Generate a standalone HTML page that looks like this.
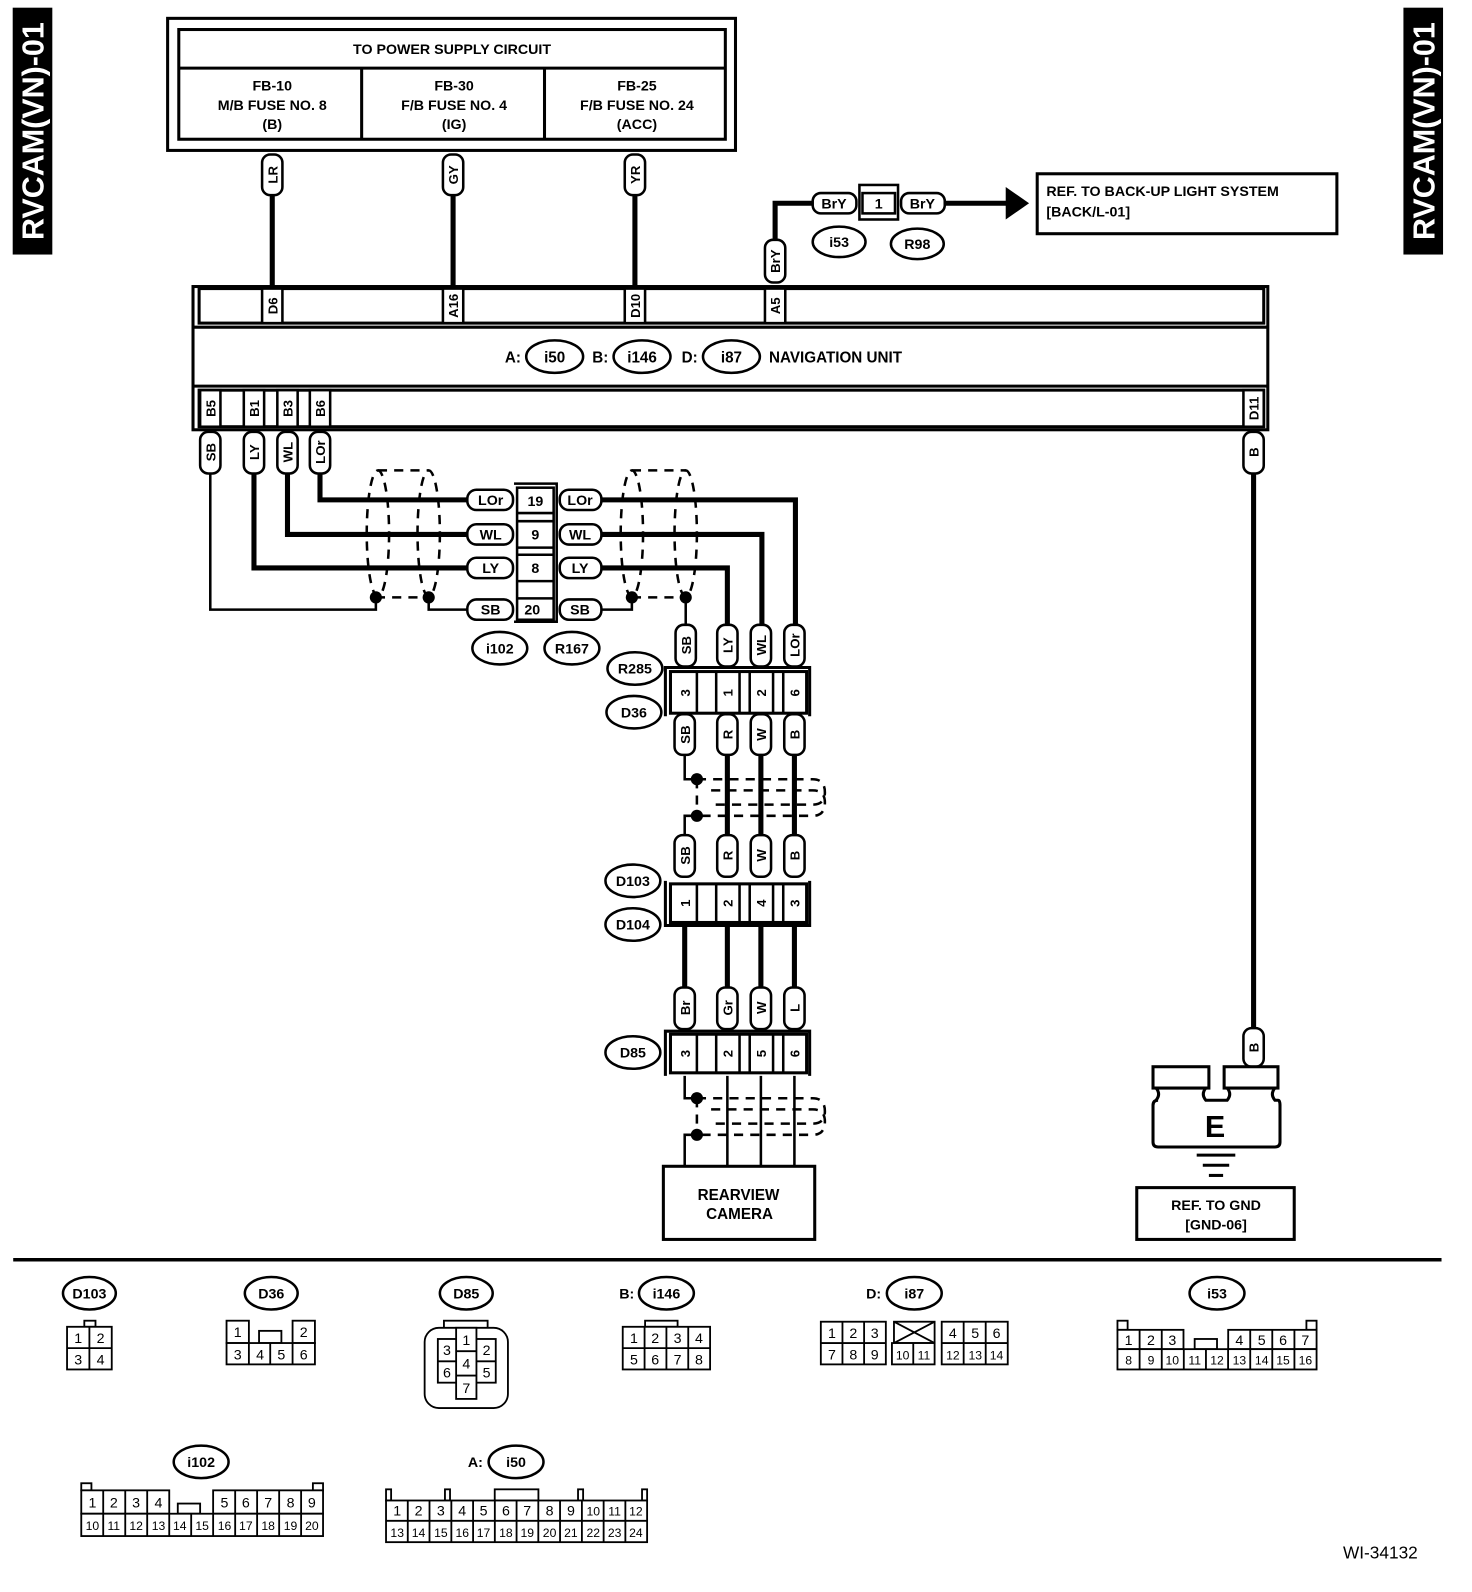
<!DOCTYPE html>
<html><head><meta charset="utf-8"><style>
html,body{margin:0;padding:0;background:#fff}
svg{display:block}
text{font-family:"Liberation Sans",sans-serif}
.b{font-weight:bold}
</style></head><body>
<svg width="1472" height="1592" viewBox="0 0 1449 1567" xmlns="http://www.w3.org/2000/svg">
<defs>
<g id="dot"><circle r="5" fill="#000"/></g>
</defs>
<g fill="none" stroke="#000">
<!-- side tabs -->
<rect x="13" y="8" width="38" height="242" fill="#000"/>
<rect x="1382" y="8" width="38" height="242" fill="#000"/>
</g>
<text class="b" transform="translate(43,129) rotate(-90)" text-anchor="middle" font-size="30" fill="#fff">RVCAM(VN)-01</text>
<text class="b" transform="translate(1412,129) rotate(-90)" text-anchor="middle" font-size="30" fill="#fff">RVCAM(VN)-01</text>

<!-- power supply box -->
<g fill="none" stroke="#000">
<rect x="165" y="18" width="559" height="130" stroke-width="3"/>
<rect x="176" y="29" width="538" height="108" stroke-width="3"/>
<line x1="176" y1="67" x2="714" y2="67" stroke-width="3"/>
<line x1="356" y1="67" x2="356" y2="137" stroke-width="3"/>
<line x1="536" y1="67" x2="536" y2="137" stroke-width="3"/>
</g>
<g class="b" font-size="14" text-anchor="middle">
<text x="445" y="53">TO POWER SUPPLY CIRCUIT</text>
<text x="268" y="89">FB-10</text><text x="268" y="108">M/B FUSE NO. 8</text><text x="268" y="127">(B)</text>
<text x="447" y="89">FB-30</text><text x="447" y="108">F/B FUSE NO. 4</text><text x="447" y="127">(IG)</text>
<text x="627" y="89">FB-25</text><text x="627" y="108">F/B FUSE NO. 24</text><text x="627" y="127">(ACC)</text>
</g>

<!-- thick wires -->
<g stroke="#000" stroke-width="5" fill="none">
<line x1="268" y1="190" x2="268" y2="284"/>
<line x1="446" y1="190" x2="446" y2="284"/>
<line x1="625" y1="190" x2="625" y2="284"/>
<polyline points="763,238 763,200 800,200"/>
<line x1="930" y1="200" x2="992" y2="200"/>
<polyline points="250,466 250,559 460,559"/>
<polyline points="283,466 283,526 460,526"/>
<polyline points="315,466 315,492 460,492"/>
<polyline points="592,492 783,492 783,615"/>
<polyline points="592,526 750,526 750,615"/>
<polyline points="592,559 716,559 716,615"/>
<line x1="716" y1="742" x2="716" y2="822"/>
<line x1="749" y1="742" x2="749" y2="822"/>
<line x1="782" y1="742" x2="782" y2="822"/>
<line x1="674" y1="911" x2="674" y2="972"/>
<line x1="716" y1="911" x2="716" y2="972"/>
<line x1="749" y1="911" x2="749" y2="972"/>
<line x1="782" y1="911" x2="782" y2="972"/>
<line x1="1234" y1="466" x2="1234" y2="1012"/>
</g>
<polygon points="990,184 1013,200 990,216" fill="#000"/>
<!-- thin wires -->
<g stroke="#000" stroke-width="2.5" fill="none">
<polyline points="207,466 207,600 370,600 370,588"/>
<polyline points="422,588 422,600 460,600"/>
<polyline points="592,600 622,600 622,588"/>
<polyline points="675,588 675,615"/>
<polyline points="674,742 674,767 686,767"/>
<polyline points="686,803 674,803 674,822"/>
<polyline points="674,1059 674,1081 686,1081"/>
<polyline points="686,1117 674,1117 674,1148"/>
<line x1="716" y1="1059" x2="716" y2="1148"/>
<line x1="749" y1="1059" x2="749" y2="1148"/>
<line x1="782" y1="1059" x2="782" y2="1148"/>
</g>
<!-- shields -->
<g stroke="#000" stroke-width="2.5" fill="none" stroke-dasharray="9,7">
<ellipse cx="372" cy="525" rx="11" ry="62"/>
<ellipse cx="422" cy="525" rx="11" ry="62"/>
<line x1="372" y1="463" x2="422" y2="463"/>
<line x1="370" y1="588" x2="422" y2="588"/>
<ellipse cx="622" cy="525" rx="11" ry="62"/>
<ellipse cx="675" cy="525" rx="11" ry="62"/>
<line x1="622" y1="463" x2="675" y2="463"/>
<line x1="622" y1="588" x2="675" y2="588"/>
<path d="M686,767 L800,767 Q812,767 812,780 Q812,792 800,792 L700,792"/>
<path d="M700,778 L800,778 Q812,778 812,790 Q812,803 800,803 L686,803"/>
<line x1="686" y1="767" x2="686" y2="803"/>
<path d="M686,1081 L800,1081 Q812,1081 812,1094 Q812,1106 800,1106 L700,1106"/>
<path d="M700,1092 L800,1092 Q812,1092 812,1104 Q812,1117 800,1117 L686,1117"/>
<line x1="686" y1="1081" x2="686" y2="1117"/>
</g>
<g fill="#000">
<circle cx="370" cy="588" r="6"/><circle cx="422" cy="588" r="6"/>
<circle cx="622" cy="588" r="6"/><circle cx="675" cy="588" r="6"/>
<circle cx="686" cy="767" r="6"/><circle cx="686" cy="803" r="6"/>
<circle cx="686" cy="1081" r="6"/><circle cx="686" cy="1117" r="6"/>
</g>

<!-- navigation unit -->
<g fill="#fff" stroke="#000" stroke-width="3">
<rect x="190" y="282" width="1058" height="141"/>
<rect x="196" y="284" width="1048" height="34"/>
<line x1="190" y1="322" x2="1248" y2="322"/>
<line x1="190" y1="380" x2="1248" y2="380"/>
<rect x="196" y="384" width="1048" height="36" fill="none"/>
</g>
<g fill="#fff" stroke="#000" stroke-width="2.5">
<rect x="258" y="284" width="20" height="34"/>
<rect x="436" y="284" width="20" height="34"/>
<rect x="615" y="284" width="20" height="34"/>
<rect x="753" y="284" width="20" height="34"/>
<rect x="197" y="384" width="20" height="36"/>
<rect x="240" y="384" width="20" height="36"/>
<rect x="273" y="384" width="20" height="36"/>
<rect x="305" y="384" width="20" height="36"/>
<rect x="1224" y="384" width="20" height="36"/>
</g>
<g class="b" font-size="13" text-anchor="middle">
<text transform="translate(273,301) rotate(-90)">D6</text>
<text transform="translate(451,301) rotate(-90)">A16</text>
<text transform="translate(630,301) rotate(-90)">D10</text>
<text transform="translate(768,301) rotate(-90)">A5</text>
<text transform="translate(212,402) rotate(-90)">B5</text>
<text transform="translate(255,402) rotate(-90)">B1</text>
<text transform="translate(288,402) rotate(-90)">B3</text>
<text transform="translate(320,402) rotate(-90)">B6</text>
<text transform="translate(1239,402) rotate(-90)">D11</text>
</g>
<g fill="#fff" stroke="#000" stroke-width="2.5">
<ellipse cx="546" cy="351" rx="28" ry="16"/>
<ellipse cx="632" cy="351" rx="28" ry="16"/>
<ellipse cx="720" cy="351" rx="28" ry="16"/>
</g>
<g class="b" font-size="15">
<text x="497" y="357">A:</text><text x="546" y="357" text-anchor="middle">i50</text>
<text x="583" y="357">B:</text><text x="632" y="357" text-anchor="middle">i146</text>
<text x="671" y="357">D:</text><text x="720" y="357" text-anchor="middle">i87</text>
<text x="757" y="357">NAVIGATION UNIT</text>
</g>

<!-- vertical pills -->
<g fill="#fff" stroke="#000" stroke-width="2.5">
<rect x="258" y="152" width="20" height="40" rx="8"/>
<rect x="436" y="152" width="20" height="40" rx="8"/>
<rect x="615" y="152" width="20" height="40" rx="8"/>
<rect x="753" y="236" width="20" height="42" rx="8"/>
<rect x="197" y="425" width="20" height="41" rx="8"/>
<rect x="240" y="425" width="20" height="41" rx="8"/>
<rect x="273" y="425" width="20" height="41" rx="8"/>
<rect x="305" y="425" width="20" height="41" rx="8"/>
<rect x="1224" y="425" width="20" height="41" rx="8"/>
<rect x="665" y="615" width="20" height="41" rx="8"/>
<rect x="706" y="615" width="20" height="41" rx="8"/>
<rect x="739" y="615" width="20" height="41" rx="8"/>
<rect x="772" y="615" width="20" height="41" rx="8"/>
<rect x="664" y="703" width="20" height="40" rx="8"/>
<rect x="706" y="703" width="20" height="40" rx="8"/>
<rect x="739" y="703" width="20" height="40" rx="8"/>
<rect x="772" y="703" width="20" height="40" rx="8"/>
<rect x="664" y="822" width="20" height="41" rx="8"/>
<rect x="706" y="822" width="20" height="41" rx="8"/>
<rect x="739" y="822" width="20" height="41" rx="8"/>
<rect x="772" y="822" width="20" height="41" rx="8"/>
<rect x="664" y="972" width="20" height="41" rx="8"/>
<rect x="706" y="972" width="20" height="41" rx="8"/>
<rect x="739" y="972" width="20" height="41" rx="8"/>
<rect x="772" y="972" width="20" height="41" rx="8"/>
<rect x="1224" y="1012" width="20" height="38" rx="8"/>
</g>
<g class="b" font-size="13" text-anchor="middle">
<text transform="translate(273,172) rotate(-90)">LR</text>
<text transform="translate(451,172) rotate(-90)">GY</text>
<text transform="translate(630,172) rotate(-90)">YR</text>
<text transform="translate(768,257) rotate(-90)">BrY</text>
<text transform="translate(212,445) rotate(-90)">SB</text>
<text transform="translate(255,445) rotate(-90)">LY</text>
<text transform="translate(288,445) rotate(-90)">WL</text>
<text transform="translate(320,445) rotate(-90)">LOr</text>
<text transform="translate(1239,445) rotate(-90)">B</text>
<text transform="translate(680,635) rotate(-90)">SB</text>
<text transform="translate(721,635) rotate(-90)">LY</text>
<text transform="translate(754,635) rotate(-90)">WL</text>
<text transform="translate(787,635) rotate(-90)">LOr</text>
<text transform="translate(679,723) rotate(-90)">SB</text>
<text transform="translate(721,723) rotate(-90)">R</text>
<text transform="translate(754,723) rotate(-90)">W</text>
<text transform="translate(787,723) rotate(-90)">B</text>
<text transform="translate(679,842) rotate(-90)">SB</text>
<text transform="translate(721,842) rotate(-90)">R</text>
<text transform="translate(754,842) rotate(-90)">W</text>
<text transform="translate(787,842) rotate(-90)">B</text>
<text transform="translate(679,992) rotate(-90)">Br</text>
<text transform="translate(721,992) rotate(-90)">Gr</text>
<text transform="translate(754,992) rotate(-90)">W</text>
<text transform="translate(787,992) rotate(-90)">L</text>
<text transform="translate(1239,1031) rotate(-90)">B</text>
</g>

<!-- BrY connector -->
<g fill="#fff" stroke="#000" stroke-width="2.5">
<rect x="800" y="190" width="43" height="20" rx="8"/>
<rect x="846" y="182" width="38" height="34"/>
<rect x="849" y="190" width="32" height="20"/>
<rect x="887" y="190" width="43" height="20" rx="8"/>
<ellipse cx="826" cy="238" rx="26" ry="15"/>
<ellipse cx="903" cy="240" rx="26" ry="15"/>
<rect x="1021" y="171" width="295" height="59" stroke-width="3"/>
</g>
<g class="b" font-size="14" text-anchor="middle">
<text x="821" y="205">BrY</text><text x="865" y="205">1</text><text x="908" y="205">BrY</text>
<text x="826" y="243">i53</text><text x="903" y="245">R98</text>
</g>
<g class="b" font-size="14">
<text x="1030" y="193">REF. TO BACK-UP LIGHT SYSTEM</text>
<text x="1030" y="213">[BACK/L-01]</text>
</g>

<!-- i102/R167 joint connector -->
<g fill="#fff" stroke="#000" stroke-width="2.5">
<path d="M506,476 L548,476 L548,612 L506,612" fill="none"/>
<rect x="509" y="480" width="36" height="130"/>
<line x1="509" y1="505" x2="545" y2="505"/><line x1="509" y1="513" x2="545" y2="513"/>
<line x1="509" y1="539" x2="545" y2="539"/><line x1="509" y1="546" x2="545" y2="546"/>
<line x1="509" y1="572" x2="545" y2="572"/><line x1="509" y1="589" x2="545" y2="589"/>
<rect x="460" y="482" width="45" height="20" rx="9"/>
<rect x="460" y="516" width="45" height="20" rx="9"/>
<rect x="460" y="549" width="45" height="20" rx="9"/>
<rect x="460" y="590" width="45" height="20" rx="9"/>
<rect x="551" y="482" width="41" height="20" rx="9"/>
<rect x="551" y="516" width="41" height="20" rx="9"/>
<rect x="551" y="549" width="41" height="20" rx="9"/>
<rect x="551" y="590" width="41" height="20" rx="9"/>
<ellipse cx="492" cy="638" rx="27" ry="16"/>
<ellipse cx="563" cy="638" rx="27" ry="16"/>
<ellipse cx="625" cy="658" rx="27" ry="16"/>
<ellipse cx="624" cy="701" rx="27" ry="16"/>
<ellipse cx="623" cy="867" rx="27" ry="16"/>
<ellipse cx="623" cy="910" rx="27" ry="16"/>
<ellipse cx="623" cy="1036" rx="27" ry="16"/>
</g>
<g class="b" font-size="14" text-anchor="middle">
<text x="483" y="497">LOr</text><text x="527" y="498">19</text><text x="571" y="497">LOr</text>
<text x="483" y="531">WL</text><text x="527" y="531">9</text><text x="571" y="531">WL</text>
<text x="483" y="564">LY</text><text x="527" y="564">8</text><text x="571" y="564">LY</text>
<text x="483" y="605">SB</text><text x="524" y="605">20</text><text x="571" y="605">SB</text>
<text x="492" y="643">i102</text><text x="563" y="643">R167</text>
<text x="625" y="663">R285</text><text x="624" y="706">D36</text>
<text x="623" y="872">D103</text><text x="623" y="915">D104</text>
<text x="623" y="1041">D85</text>
</g>

<!-- inline connectors -->
<g fill="#fff" stroke="#000" stroke-width="3">
<path d="M655,705 L655,657 L797,657 L797,705" fill="none"/>
<rect x="660" y="661" width="134" height="41"/>
<path d="M655,867 L655,911 L797,911 L797,867" fill="none"/>
<rect x="660" y="870" width="134" height="38"/>
<path d="M655,1059 L655,1015 L797,1015 L797,1059" fill="none"/>
<rect x="660" y="1018" width="134" height="38"/>
</g>
<g stroke="#000" stroke-width="2.5">
<line x1="686" y1="661" x2="686" y2="702"/><line x1="705" y1="661" x2="705" y2="702"/>
<line x1="728" y1="661" x2="728" y2="702"/><line x1="738" y1="661" x2="738" y2="702"/>
<line x1="761" y1="661" x2="761" y2="702"/><line x1="771" y1="661" x2="771" y2="702"/>
<line x1="686" y1="870" x2="686" y2="908"/><line x1="705" y1="870" x2="705" y2="908"/>
<line x1="728" y1="870" x2="728" y2="908"/><line x1="738" y1="870" x2="738" y2="908"/>
<line x1="761" y1="870" x2="761" y2="908"/><line x1="771" y1="870" x2="771" y2="908"/>
<line x1="686" y1="1018" x2="686" y2="1056"/><line x1="705" y1="1018" x2="705" y2="1056"/>
<line x1="728" y1="1018" x2="728" y2="1056"/><line x1="738" y1="1018" x2="738" y2="1056"/>
<line x1="761" y1="1018" x2="761" y2="1056"/><line x1="771" y1="1018" x2="771" y2="1056"/>
</g>
<g class="b" font-size="13" text-anchor="middle">
<text transform="translate(679,682) rotate(-90)">3</text>
<text transform="translate(721,682) rotate(-90)">1</text>
<text transform="translate(754,682) rotate(-90)">2</text>
<text transform="translate(787,682) rotate(-90)">6</text>
<text transform="translate(679,889) rotate(-90)">1</text>
<text transform="translate(721,889) rotate(-90)">2</text>
<text transform="translate(754,889) rotate(-90)">4</text>
<text transform="translate(787,889) rotate(-90)">3</text>
<text transform="translate(679,1037) rotate(-90)">3</text>
<text transform="translate(721,1037) rotate(-90)">2</text>
<text transform="translate(754,1037) rotate(-90)">5</text>
<text transform="translate(787,1037) rotate(-90)">6</text>
</g>

<!-- camera -->
<rect x="653" y="1148" width="149" height="72" fill="#fff" stroke="#000" stroke-width="3"/>
<g class="b" font-size="15" text-anchor="middle">
<text x="727" y="1181">REARVIEW</text><text x="728" y="1200">CAMERA</text>
</g>

<!-- ground -->
<g fill="#fff" stroke="#000" stroke-width="3">
<rect x="1135" y="1050" width="55" height="21"/>
<rect x="1205" y="1050" width="53" height="21"/>
<path d="M1138,1071 L1187,1071 Q1182,1077 1187,1083 L1208,1083 Q1213,1077 1208,1071 L1255,1071 Q1250,1077 1255,1083 L1258,1083 Q1260,1083 1260,1088 L1260,1124 Q1260,1129 1255,1129 L1140,1129 Q1135,1129 1135,1124 L1135,1088 Q1135,1083 1140,1083 L1138,1083 Q1143,1077 1138,1071 Z"/>
<line x1="1187" y1="1071" x2="1187" y2="1083" stroke="none"/>
<rect x="1119" y="1169" width="155" height="51"/>
</g>
<g stroke="#000" stroke-width="3">
<line x1="1178" y1="1137" x2="1216" y2="1137"/>
<line x1="1184" y1="1147" x2="1210" y2="1147"/>
<line x1="1190" y1="1157" x2="1204" y2="1157"/>
<line x1="13" y1="1240" x2="1419" y2="1240" stroke-width="3.5"/>
</g>
<text class="b" x="1196" y="1119" font-size="30" text-anchor="middle">E</text>
<g class="b" font-size="14" text-anchor="middle">
<text x="1197" y="1191">REF. TO GND</text><text x="1197" y="1210">[GND-06]</text>
</g>

<!-- legend ovals -->
<g fill="#fff" stroke="#000" stroke-width="2.5">
<ellipse cx="88" cy="1273" rx="26" ry="16"/>
<ellipse cx="267" cy="1273" rx="26" ry="16"/>
<ellipse cx="459" cy="1273" rx="26" ry="16"/>
<ellipse cx="656" cy="1273" rx="27" ry="16"/>
<ellipse cx="900" cy="1273" rx="27" ry="16"/>
<ellipse cx="1198" cy="1273" rx="27" ry="16"/>
<ellipse cx="198" cy="1439" rx="27" ry="16"/>
<ellipse cx="508" cy="1439" rx="27" ry="16"/>
</g>
<g class="b" font-size="14" text-anchor="middle">
<text x="88" y="1278">D103</text><text x="267" y="1278">D36</text><text x="459" y="1278">D85</text>
<text x="617" y="1278">B:</text><text x="656" y="1278">i146</text>
<text x="860" y="1278">D:</text><text x="900" y="1278">i87</text>
<text x="1198" y="1278">i53</text><text x="198" y="1444">i102</text>
<text x="468" y="1444">A:</text><text x="508" y="1444">i50</text>
</g>

<!-- legend grids -->
<g fill="#fff" stroke="#000" stroke-width="1.8">
<!-- D103 -->
<rect x="83" y="1300" width="11" height="6"/>
<rect x="66" y="1306" width="44" height="42"/>
<line x1="88" y1="1306" x2="88" y2="1348"/><line x1="66" y1="1327" x2="110" y2="1327"/>
<!-- D36 -->
<rect x="223" y="1300" width="22" height="22"/><rect x="288" y="1300" width="22" height="22"/>
<rect x="255" y="1310" width="22" height="12"/>
<rect x="223" y="1322" width="87" height="21"/>
<line x1="245" y1="1322" x2="245" y2="1343"/><line x1="266" y1="1322" x2="266" y2="1343"/><line x1="288" y1="1322" x2="288" y2="1343"/>
<!-- D85 -->
<rect x="437" y="1300" width="43" height="9"/>
<rect x="418" y="1307" width="82" height="79" rx="14"/>
<rect x="431" y="1318" width="57" height="43"/>
<line x1="431" y1="1340" x2="488" y2="1340"/>
<rect x="449" y="1307" width="20" height="70"/>
<line x1="449" y1="1330" x2="469" y2="1330"/><line x1="449" y1="1354" x2="469" y2="1354"/>
<!-- i146 -->
<rect x="635" y="1300" width="32" height="6"/>
<rect x="613" y="1306" width="86" height="42"/>
<line x1="634.5" y1="1306" x2="634.5" y2="1348"/><line x1="656" y1="1306" x2="656" y2="1348"/><line x1="677.5" y1="1306" x2="677.5" y2="1348"/>
<line x1="613" y1="1327" x2="699" y2="1327"/>
<!-- i87 -->
<rect x="808" y="1301" width="64" height="42"/>
<line x1="829.3" y1="1301" x2="829.3" y2="1343"/><line x1="850.6" y1="1301" x2="850.6" y2="1343"/><line x1="808" y1="1322" x2="872" y2="1322"/>
<rect x="880" y="1301" width="40" height="21"/>
<line x1="880" y1="1301" x2="920" y2="1322"/><line x1="920" y1="1301" x2="880" y2="1322"/>
<rect x="878" y="1322" width="42" height="21"/><line x1="899" y1="1322" x2="899" y2="1343"/>
<rect x="927" y="1301" width="65" height="42"/>
<line x1="948.6" y1="1301" x2="948.6" y2="1343"/><line x1="970.3" y1="1301" x2="970.3" y2="1343"/><line x1="927" y1="1322" x2="992" y2="1322"/>
<!-- i53 -->
<rect x="1100" y="1300" width="10" height="9"/><rect x="1286" y="1300" width="10" height="9"/>
<rect x="1100" y="1309" width="65" height="19"/>
<rect x="1209" y="1309" width="87" height="19"/>
<rect x="1176" y="1318" width="22" height="10"/>
<rect x="1100" y="1328" width="196" height="20"/>
<line x1="1121.8" y1="1309" x2="1121.8" y2="1348"/><line x1="1143.6" y1="1309" x2="1143.6" y2="1348"/>
<line x1="1165.3" y1="1328" x2="1165.3" y2="1348"/><line x1="1187.1" y1="1328" x2="1187.1" y2="1348"/><line x1="1208.9" y1="1328" x2="1208.9" y2="1348"/>
<line x1="1230.7" y1="1309" x2="1230.7" y2="1348"/><line x1="1252.4" y1="1309" x2="1252.4" y2="1348"/><line x1="1274.2" y1="1309" x2="1274.2" y2="1348"/>
<!-- i102 -->
<rect x="80" y="1460" width="10" height="7"/><rect x="308" y="1460" width="10" height="7"/>
<rect x="80" y="1467" width="86.6" height="23"/>
<rect x="209.8" y="1467" width="108.2" height="23"/>
<rect x="175" y="1480" width="22" height="10"/>
<rect x="80" y="1490" width="238" height="22"/>
<line x1="101.6" y1="1467" x2="101.6" y2="1512"/><line x1="123.3" y1="1467" x2="123.3" y2="1512"/><line x1="144.9" y1="1467" x2="144.9" y2="1512"/>
<line x1="166.6" y1="1490" x2="166.6" y2="1512"/><line x1="188.2" y1="1490" x2="188.2" y2="1512"/><line x1="209.8" y1="1490" x2="209.8" y2="1512"/>
<line x1="231.5" y1="1467" x2="231.5" y2="1512"/><line x1="253.1" y1="1467" x2="253.1" y2="1512"/><line x1="274.8" y1="1467" x2="274.8" y2="1512"/><line x1="296.4" y1="1467" x2="296.4" y2="1512"/>
<!-- i50 -->
<rect x="380" y="1466" width="5" height="11"/><rect x="438" y="1466" width="5" height="11"/>
<rect x="569" y="1466" width="5" height="11"/><rect x="632" y="1466" width="5" height="11"/>
<rect x="487" y="1466" width="43" height="11"/>
<rect x="380" y="1477" width="257" height="41"/>
<line x1="380" y1="1497" x2="637" y2="1497"/>
<line x1="401.4" y1="1477" x2="401.4" y2="1518"/><line x1="422.8" y1="1477" x2="422.8" y2="1518"/><line x1="444.3" y1="1477" x2="444.3" y2="1518"/>
<line x1="465.7" y1="1477" x2="465.7" y2="1518"/><line x1="487.1" y1="1477" x2="487.1" y2="1518"/><line x1="508.5" y1="1477" x2="508.5" y2="1518"/>
<line x1="529.9" y1="1477" x2="529.9" y2="1518"/><line x1="551.3" y1="1477" x2="551.3" y2="1518"/><line x1="572.8" y1="1477" x2="572.8" y2="1518"/>
<line x1="594.2" y1="1477" x2="594.2" y2="1518"/><line x1="615.6" y1="1477" x2="615.6" y2="1518"/>
</g>
<g font-size="14" text-anchor="middle">
<!-- D103 --><text x="77" y="1322">1</text><text x="99" y="1322">2</text><text x="77" y="1343">3</text><text x="99" y="1343">4</text>
<!-- D36 --><text x="234" y="1316">1</text><text x="299" y="1316">2</text><text x="234" y="1338">3</text><text x="256" y="1338">4</text><text x="277" y="1338">5</text><text x="299" y="1338">6</text>
<!-- D85 --><text x="459" y="1324">1</text><text x="479" y="1334">2</text><text x="440" y="1334">3</text><text x="459" y="1347">4</text><text x="479" y="1356">5</text><text x="440" y="1356">6</text><text x="459" y="1371">7</text>
<!-- i146 --><text x="624" y="1322">1</text><text x="645" y="1322">2</text><text x="667" y="1322">3</text><text x="688" y="1322">4</text>
<text x="624" y="1343">5</text><text x="645" y="1343">6</text><text x="667" y="1343">7</text><text x="688" y="1343">8</text>
<!-- i87 --><text x="819" y="1317">1</text><text x="840" y="1317">2</text><text x="861" y="1317">3</text><text x="938" y="1317">4</text><text x="960" y="1317">5</text><text x="981" y="1317">6</text>
<text x="819" y="1338">7</text><text x="840" y="1338">8</text><text x="861" y="1338">9</text><text x="888.5" y="1338" font-size="12">10</text><text x="909.5" y="1338" font-size="12">11</text>
<text x="938" y="1338" font-size="12">12</text><text x="960" y="1338" font-size="12">13</text><text x="981" y="1338" font-size="12">14</text>
<!-- i53 --><text x="1111" y="1324">1</text><text x="1133" y="1324">2</text><text x="1154" y="1324">3</text><text x="1220" y="1324">4</text><text x="1242" y="1324">5</text><text x="1263" y="1324">6</text><text x="1285" y="1324">7</text>
<g font-size="12"><text x="1111" y="1343">8</text><text x="1133" y="1343">9</text><text x="1154" y="1343">10</text><text x="1176" y="1343">11</text><text x="1198" y="1343">12</text><text x="1220" y="1343">13</text><text x="1242" y="1343">14</text><text x="1263" y="1343">15</text><text x="1285" y="1343">16</text></g>
<!-- i102 --><text x="91" y="1484">1</text><text x="112" y="1484">2</text><text x="134" y="1484">3</text><text x="156" y="1484">4</text><text x="221" y="1484">5</text><text x="242" y="1484">6</text><text x="264" y="1484">7</text><text x="286" y="1484">8</text><text x="307" y="1484">9</text>
<g font-size="12"><text x="91" y="1506">10</text><text x="112" y="1506">11</text><text x="134" y="1506">12</text><text x="156" y="1506">13</text><text x="177" y="1506">14</text><text x="199" y="1506">15</text><text x="221" y="1506">16</text><text x="242" y="1506">17</text><text x="264" y="1506">18</text><text x="286" y="1506">19</text><text x="307" y="1506">20</text></g>
<!-- i50 --><text x="391" y="1492">1</text><text x="412" y="1492">2</text><text x="434" y="1492">3</text><text x="455" y="1492">4</text><text x="476" y="1492">5</text><text x="498" y="1492">6</text><text x="519" y="1492">7</text><text x="541" y="1492">8</text><text x="562" y="1492">9</text>
<g font-size="12"><text x="584" y="1492">10</text><text x="605" y="1492">11</text><text x="626" y="1492">12</text>
<text x="391" y="1513">13</text><text x="412" y="1513">14</text><text x="434" y="1513">15</text><text x="455" y="1513">16</text><text x="476" y="1513">17</text><text x="498" y="1513">18</text><text x="519" y="1513">19</text><text x="541" y="1513">20</text><text x="562" y="1513">21</text><text x="584" y="1513">22</text><text x="605" y="1513">23</text><text x="626" y="1513">24</text></g>
</g>
<text x="1322" y="1534" font-size="17">WI-34132</text>
</svg>
</body></html>
